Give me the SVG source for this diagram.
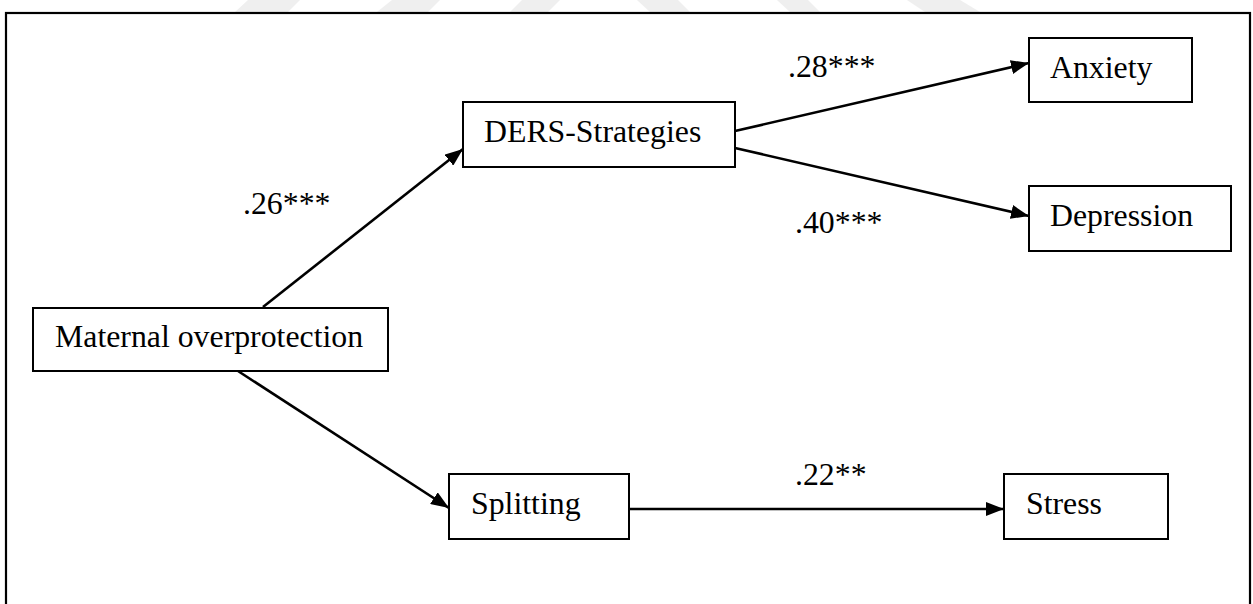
<svg xmlns="http://www.w3.org/2000/svg" width="1253" height="604" viewBox="0 0 1253 604">
  <style>
    .box { fill: #ffffff; stroke: #000000; stroke-width: 2; }
    .lbl { font-family: "Liberation Serif", "Times New Roman", serif; font-size: 31.8px; fill: #000000; }
    .edge { stroke: #000000; stroke-width: 2.6; fill: none; marker-end: url(#arrow); }
    .mark { fill: #efefef; }
  </style>
  <defs>
    <marker id="arrow" viewBox="0 0 18 14" refX="18" refY="7" markerWidth="18" markerHeight="14" markerUnits="userSpaceOnUse" orient="auto">
      <path d="M0,0 L18,7 L0,14 Z" fill="#000000"/>
    </marker>
  </defs>

  <rect width="1253" height="604" fill="#ffffff"/>

  <!-- faint background watermark strokes along the top edge -->
  <g id="watermark">
    <polygon class="mark" points="248,0 300,0 288,12 235,12"/>
    <polygon class="mark" points="392,0 440,0 428,12 377,12"/>
    <polygon class="mark" points="522,0 560,0 548,12 510,12"/>
    <polygon class="mark" points="637,0 678,0 690,12 650,12"/>
    <polygon class="mark" points="777,0 808,0 820,12 790,12"/>
    <polygon class="mark" points="907,0 960,0 980,12 925,12"/>
  </g>

  <!-- outer frame -->
  <rect x="6" y="13" width="1244" height="620" fill="none" stroke="#000000" stroke-width="2.2"/>

  <g id="connectors">
    <line class="edge" x1="263" y1="307" x2="463" y2="149"/>
    <line class="edge" x1="238" y1="371" x2="449" y2="508"/>
    <line class="edge" x1="735" y1="131" x2="1029" y2="63"/>
    <line class="edge" x1="735" y1="148" x2="1029" y2="216"/>
    <line class="edge" x1="629" y1="509" x2="1004" y2="509"/>
    <text class="lbl" x="243" y="214">.26***</text>
    <text class="lbl" x="788" y="77">.28***</text>
    <text class="lbl" x="795" y="233">.40***</text>
    <text class="lbl" x="795" y="485">.22**</text>
  </g>

  <g id="maternal">
    <rect class="box" x="33" y="308" width="355" height="63"/>
    <text class="lbl" x="55" y="347">Maternal overprotection</text>
  </g>

  <g id="ders">
    <rect class="box" x="463" y="102" width="272" height="65"/>
    <text class="lbl" x="484" y="142">DERS-Strategies</text>
  </g>

  <g id="anxiety">
    <rect class="box" x="1029" y="38" width="163" height="64"/>
    <text class="lbl" x="1050" y="78">Anxiety</text>
  </g>

  <g id="depression">
    <rect class="box" x="1029" y="186" width="202" height="65"/>
    <text class="lbl" x="1050" y="226">Depression</text>
  </g>

  <g id="splitting">
    <rect class="box" x="449" y="474" width="180" height="65"/>
    <text class="lbl" x="471" y="514">Splitting</text>
  </g>

  <g id="stress">
    <rect class="box" x="1004" y="474" width="164" height="65"/>
    <text class="lbl" x="1026" y="514">Stress</text>
  </g>
</svg>
